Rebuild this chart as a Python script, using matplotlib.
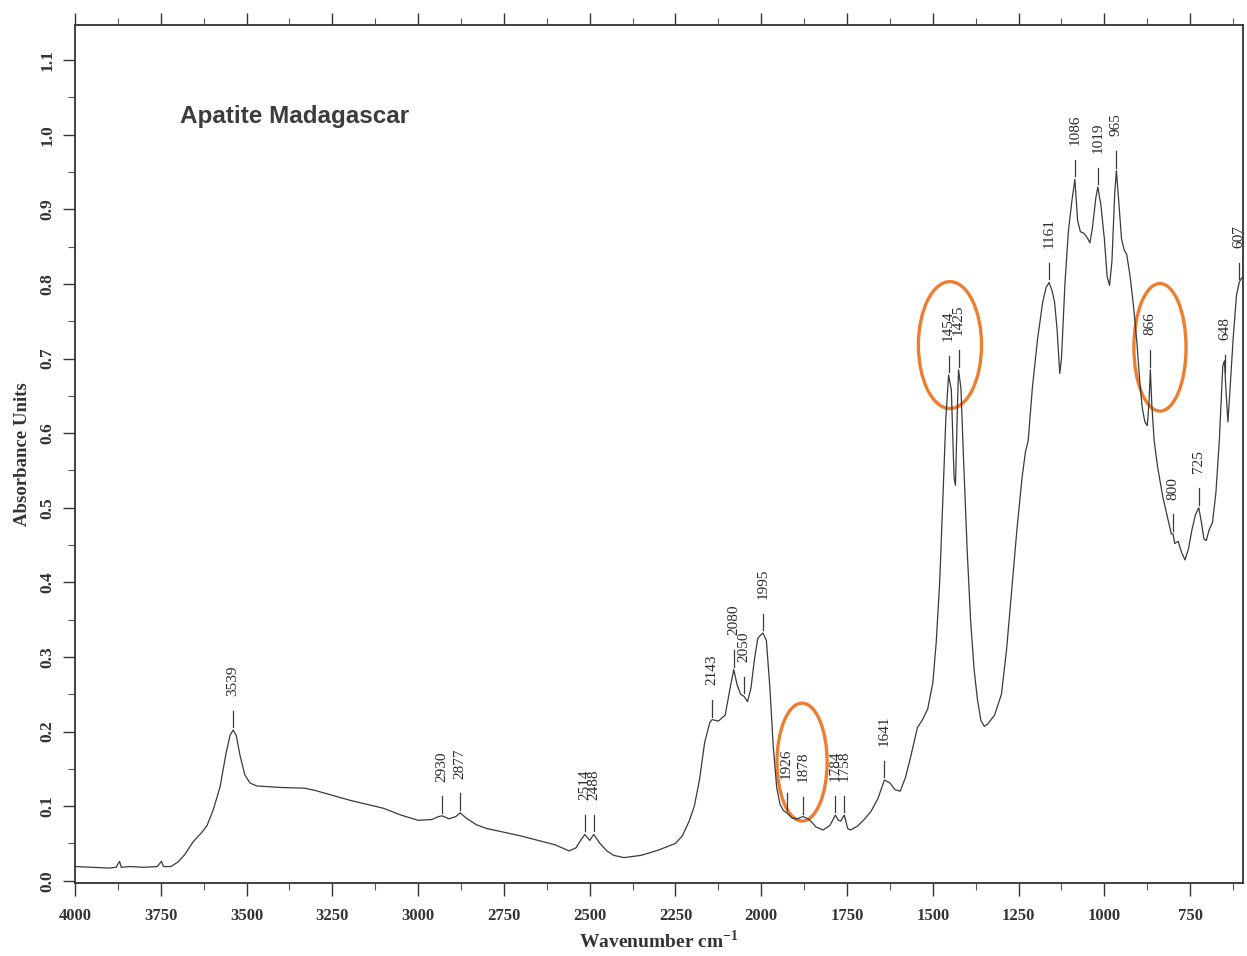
import matplotlib
matplotlib.use("Agg")
import matplotlib.pyplot as plt
from matplotlib.patches import Ellipse
from matplotlib.ticker import MultipleLocator
import numpy as np

# spectrum (wavenumber cm-1, absorbance)
wavenumber = [
    4000, 3950, 3900, 3880, 3870, 3865, 3840, 3800, 3760, 3748, 3742, 3720,
    3700, 3680, 3656, 3630, 3615, 3597, 3577, 3560, 3548, 3539, 3530, 3519,
    3505, 3490, 3470, 3400, 3330, 3300, 3200, 3100, 3050, 3000, 2960, 2940,
    2930, 2910, 2890, 2877, 2860, 2830, 2800, 2700, 2600, 2560, 2540, 2525,
    2514, 2500, 2488, 2470, 2450, 2430, 2400, 2350, 2300, 2250, 2230, 2210,
    2195, 2180, 2165, 2150, 2143, 2125, 2105, 2090, 2080, 2070, 2060, 2050,
    2040, 2030, 2020, 2010, 2000, 1995, 1985, 1975, 1965, 1955, 1945, 1935,
    1926, 1910, 1895, 1878, 1860, 1840, 1820, 1800, 1784, 1775, 1768, 1758,
    1748, 1740, 1720, 1700, 1680, 1660, 1641, 1625, 1610, 1595, 1580, 1565,
    1545, 1530, 1515, 1500, 1490, 1480, 1470, 1462, 1454, 1446, 1438, 1434,
    1428, 1425, 1418, 1410, 1400, 1390, 1380, 1370, 1360, 1350, 1340, 1320,
    1300, 1285, 1270, 1255, 1240, 1230, 1222, 1210, 1195, 1180, 1170, 1161,
    1152, 1145, 1138, 1130, 1125, 1115, 1105, 1095, 1086, 1078, 1070, 1060,
    1050, 1042, 1035, 1025, 1019, 1010, 1000, 992, 985, 978, 970, 965,
    958, 950, 942, 935, 925, 915, 905, 897, 890, 882, 875, 870,
    866, 862, 855, 845, 830, 815, 805, 800, 795, 785, 775, 765,
    755, 745, 735, 725, 717, 710, 703, 695, 685, 675, 665, 655,
    650, 646, 640, 635, 625, 615, 607, 600,
]
absorbance = [
    0.019, 0.018, 0.017, 0.018, 0.026, 0.018, 0.019, 0.018, 0.019, 0.026, 0.019, 0.019,
    0.025, 0.035, 0.052, 0.065, 0.074, 0.095, 0.126, 0.170, 0.195, 0.202, 0.195, 0.168,
    0.142, 0.131, 0.127, 0.125, 0.124, 0.121, 0.108, 0.097, 0.088, 0.081, 0.082, 0.086,
    0.087, 0.083, 0.086, 0.091, 0.084, 0.075, 0.070, 0.060, 0.048, 0.040, 0.044, 0.055,
    0.062, 0.054, 0.062, 0.050, 0.040, 0.034, 0.031, 0.034, 0.041, 0.050, 0.060, 0.080,
    0.100, 0.135, 0.185, 0.212, 0.216, 0.214, 0.222, 0.260, 0.283, 0.262, 0.250, 0.247,
    0.240, 0.258, 0.296, 0.325, 0.330, 0.332, 0.322, 0.260, 0.180, 0.125, 0.102, 0.094,
    0.091, 0.084, 0.083, 0.086, 0.082, 0.072, 0.068, 0.074, 0.088, 0.081, 0.080, 0.088,
    0.070, 0.068, 0.073, 0.082, 0.093, 0.110, 0.135, 0.131, 0.122, 0.120, 0.138, 0.165,
    0.205, 0.216, 0.230, 0.265, 0.320, 0.400, 0.520, 0.620, 0.678, 0.658, 0.540, 0.530,
    0.640, 0.685, 0.660, 0.560, 0.445, 0.350, 0.285, 0.243, 0.215, 0.207, 0.210, 0.222,
    0.250, 0.310, 0.390, 0.470, 0.540, 0.575, 0.590, 0.660, 0.725, 0.775, 0.795, 0.802,
    0.790, 0.775, 0.740, 0.680, 0.700, 0.800, 0.870, 0.910, 0.940, 0.885, 0.870, 0.868,
    0.862, 0.855, 0.875, 0.915, 0.930, 0.905, 0.860, 0.810, 0.798, 0.830, 0.920, 0.952,
    0.910, 0.860, 0.845, 0.840, 0.810, 0.770, 0.720, 0.670, 0.635, 0.615, 0.610, 0.640,
    0.685, 0.640, 0.590, 0.555, 0.515, 0.485, 0.465, 0.465, 0.452, 0.455, 0.440, 0.430,
    0.445, 0.470, 0.490, 0.500, 0.480, 0.458, 0.456, 0.470, 0.480, 0.520, 0.590, 0.690,
    0.697, 0.660, 0.615, 0.650, 0.725, 0.785, 0.802, 0.808,
]

# labelled peaks
peak_labels = ["3539", "2930", "2877", "2514", "2488", "2143", "2080", "2050",
               "1995", "1926", "1878", "1784", "1758", "1641", "1454", "1425",
               "1161", "1086", "1019", "965", "866", "800", "725", "648", "607"]
peak_wn = [int(p) for p in peak_labels]

# highlighted regions (centre wn, centre abs, width wn, height abs)
highlights = [(1881, 0.159, 146, 0.158), (1450, 0.718, 184, 0.170),
              (838, 0.715, 152, 0.171)]

serif = "Liberation Serif"
line_col = "#3a3a3a"
plt.rcParams["mathtext.fontset"] = "custom"
plt.rcParams["mathtext.rm"] = "Liberation Serif:bold"
plt.rcParams["mathtext.bf"] = "Liberation Serif:bold"

fig = plt.figure(figsize=(12.47, 9.56), dpi=100)
ax = fig.add_axes([0.0601, 0.0764, 0.9367, 0.8974])

ax.plot(wavenumber, absorbance, color=line_col, lw=0.9)

# peak marks: short tick above the curve, rotated label above that
wn_sorted = np.array(wavenumber)[::-1]
ab_sorted = np.array(absorbance)[::-1]
for lab, w in zip(peak_labels, peak_wn):
    y = np.interp(w, wn_sorted, ab_sorted)
    ax.plot([w, w], [y + 0.004, y + 0.026], color=line_col, lw=0.9)
    ax.text(w, y + 0.046, lab, rotation=90, ha="center", va="bottom",
            family=serif, fontsize=11, color="#2a2a2a")

for cx, cy, w, h in highlights:
    ax.add_patch(Ellipse((cx, cy), w, h, fill=False, edgecolor="#ED7D31", lw=2.4))

ax.set_xlim(4000, 596)
ax.set_ylim(-0.003, 1.147)
ax.xaxis.set_major_locator(MultipleLocator(250))
ax.xaxis.set_minor_locator(MultipleLocator(125))
ax.yaxis.set_major_locator(MultipleLocator(0.1))
ax.yaxis.set_minor_locator(MultipleLocator(0.05))
ax.tick_params(axis="x", which="major", direction="out", length=9, width=1,
               top=True, labelsize=12, pad=9, colors="#333333")
ax.tick_params(axis="x", which="minor", direction="out", length=5, width=0.8, top=True,
               colors="#555555")
ax.tick_params(axis="y", which="major", direction="out", length=9, width=1,
               labelsize=12.5, labelrotation=90, pad=5, colors="#333333")
ax.tick_params(axis="y", which="minor", direction="out", length=5, width=0.8,
               colors="#555555")
ax.set_xticks(np.arange(4000, 700, -250))
ax.set_xticklabels([str(v) for v in range(4000, 700, -250)])
ax.set_yticks(np.arange(0, 1.15, 0.1))
ax.set_yticklabels([f"{v:.1f}" for v in np.arange(0, 1.15, 0.1)], va="center")
for lab in ax.get_xticklabels() + ax.get_yticklabels():
    lab.set_family(serif)
    lab.set_fontweight("bold")
for s in ax.spines.values():
    s.set_linewidth(1.3)
    s.set_color("#333333")

ax.set_xlabel(r"Wavenumber cm$^{-1}$", family=serif, fontweight="bold",
              fontsize=14, color="#333333", labelpad=4)
ax.set_ylabel("Absorbance Units", family=serif, fontweight="bold",
              fontsize=13.5, color="#333333", labelpad=6)

ax.text(0.0898, 0.893, "Apatite Madagascar", transform=ax.transAxes,
        family=["Liberation Sans Narrow", "Liberation Sans"], fontweight="bold",
        fontsize=17.5, color="#3c3c3c", ha="left", va="center")

fig.savefig("out.png", dpi=100)
